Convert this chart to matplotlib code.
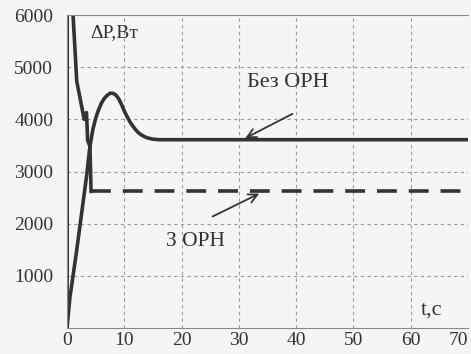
import matplotlib.pyplot as plt

# Без ОРН (solid)
t_bez = [0.0, 0.5, 1.7, 3.4, 4.0, 4.5, 5.0, 5.5, 6.0, 6.5, 7.0, 7.5, 8.0, 8.5, 9.0, 9.5,
         10.0, 10.5, 11.0, 11.5, 12.0, 12.5, 13.0, 13.5, 14.0, 15.0, 16.0, 70.0]
p_bez = [0, 580, 1500, 2900, 3480, 3800, 4020, 4180, 4310, 4400, 4460, 4500, 4500, 4470, 4400, 4290,
         4160, 4050, 3950, 3870, 3800, 3740, 3700, 3670, 3645, 3620, 3610, 3610]

# З ОРН transient part (drawn solid) and steady part (dashed)
t_z_tr = [0.0, 0.05, 0.8, 1.7, 3.0, 3.4, 3.6, 4.0, 4.2]
p_z_tr = [0, 9000, 6500, 4730, 4000, 4130, 3600, 3480, 2620]
t_z = [4.2, 70.0]
p_z = [2620, 2620]

xticks = [0, 10, 20, 30, 40, 50, 60, 70]
yticks = [1000, 2000, 3000, 4000, 5000, 6000]

plt.rcParams['font.family'] = ['Liberation Serif', 'DejaVu Serif']

fig = plt.figure(figsize=(4.71, 3.54), dpi=100, facecolor='#f5f5f3')
ax = fig.add_axes([0.1423, 0.0734, 0.851, 0.8842])
ax.set_facecolor('#f5f5f3')

ink = '#333333'
ax.plot(t_bez, p_bez, color=ink, lw=2.6, solid_joinstyle='round')
ax.plot(t_z_tr, p_z_tr, color=ink, lw=2.6)
ax.plot(t_z, p_z, color=ink, lw=2.6, dashes=(5.5, 3.3))
ax.axvline(0, color=ink, lw=2.6)

ax.set_xlim(0, 70)
ax.set_ylim(0, 6000)
ax.set_xticks(xticks)
ax.set_yticks(yticks)
ax.tick_params(length=0, labelsize=14, colors='#333333')
ax.tick_params(axis='y', pad=10)
ax.tick_params(axis='x', pad=3)
# last x label sits against the right edge of the picture
ax.get_xticklabels()[-1].set_horizontalalignment('right')
ax.grid(True, ls=(0, (3, 3)), color='#a09a9a', lw=0.8)
for s in ax.spines.values():
    s.set_color('#888888')
    s.set_linewidth(0.8)
ax.spines['right'].set_visible(False)

ax.text(4.0, 5670, 'ΔP,Вт', fontsize=14, color=ink, va='center')
ax.text(31.4, 4710, 'Без ОРН', fontsize=16, color=ink, va='center')
ax.text(17.3, 1650, 'З ОРН', fontsize=15.5, color=ink, va='center')
ax.text(61.8, 350, 't,c', fontsize=16, color=ink, va='center')

ax.annotate('', xy=(30.7, 3615), xytext=(39.8, 4130),
            arrowprops=dict(arrowstyle='->', color=ink, lw=1.3, mutation_scale=16))
ax.annotate('', xy=(34.0, 2600), xytext=(25.0, 2115),
            arrowprops=dict(arrowstyle='->', color=ink, lw=1.3, mutation_scale=16))

fig.savefig('out.png', dpi=100, facecolor=fig.get_facecolor())
